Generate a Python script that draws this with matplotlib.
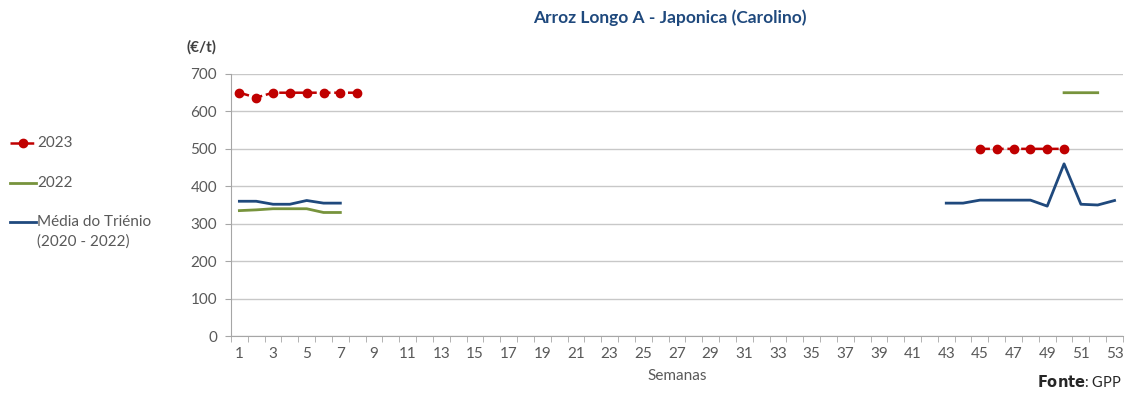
#!/usr/bin/env python
"""
Arroz Longo A - Japonica (Carolino): weekly prices, 2023 vs 2022 vs triennium mean.
"""
import numpy as np
import matplotlib
matplotlib.use('Agg')
import matplotlib.pyplot as plt
from matplotlib.lines import Line2D

plt.rcParams['font.family'] = ['Lato', 'DejaVu Sans']

# weeks 1..53, NaN where there is no quotation
weeks = np.arange(1, 54)

w2023 = [1, 2, 3, 4, 5, 6, 7, 8, 45, 46, 47, 48, 49, 50]
v2023 = [650, 637, 650, 650, 650, 650, 650, 650, 500, 500, 500, 500, 500, 500]

w2022 = [1, 2, 3, 4, 5, 6, 7, 50, 51, 52]
v2022 = [335, 337, 340, 340, 340, 330, 330, 650, 650, 650]

wmedia = [1, 2, 3, 4, 5, 6, 7, 43, 44, 45, 46, 47, 48, 49, 50, 51, 52, 53]
vmedia = [360, 360, 352, 352, 362, 355, 355,
          355, 355, 363, 363, 363, 363, 347, 460, 352, 350, 362]

xticklabels = [str(w) for w in range(1, 54, 2)]
legend_labels = ['2023', '2022', 'Média do Triénio\n(2020 - 2022)']


def to_series(w, v):
    s = np.full(len(weeks), np.nan)
    s[np.array(w) - 1] = v
    return s


s2023 = to_series(w2023, v2023)
s2022 = to_series(w2022, v2022)
smedia = to_series(wmedia, vmedia)

red = '#C00000'
green = '#77933C'
blue = '#1F497D'
grey_txt = '#595959'
dash = (0, (4, 1.5))

fig = plt.figure(figsize=(11.31, 3.94), dpi=100)
ax = fig.add_axes([0.2042, 0.1472, 0.7887, 0.665])

ax.plot(weeks, smedia, color=blue, lw=2, zorder=3)
ax.plot(weeks, s2022, color=green, lw=2, zorder=3)
ax.plot(weeks, s2023, color=red, lw=1.8, ls=dash, marker='o', ms=6, zorder=4)

ax.set_xlim(0.5, 53.5)
ax.set_ylim(0, 700)
ax.set_yticks(np.arange(0, 701, 100))
ax.set_xticks(np.arange(1, 54, 2))
ax.set_xticklabels(xticklabels)
ax.set_xticks(np.arange(0.5, 54, 1), minor=True)
ax.tick_params(axis='x', which='major', length=0, pad=8, labelsize=11,
               labelcolor=grey_txt)
ax.tick_params(axis='x', which='minor', length=4, color='#A6A6A6',
               direction='out')
ax.tick_params(axis='y', length=4, color='#A6A6A6', labelsize=11,
               labelcolor=grey_txt, pad=6)
ax.grid(axis='y', color='#C8C8C8', lw=1)
ax.set_axisbelow(True)
for side in ['top', 'right']:
    ax.spines[side].set_visible(False)
ax.spines['left'].set_color('#A6A6A6')
ax.spines['bottom'].set_color('#A6A6A6')

ax.set_xlabel('Semanas', fontsize=11, color=grey_txt, labelpad=6)

fig.text(0.592, 0.955, 'Arroz Longo A - Japonica (Carolino)', ha='center',
         va='center', fontsize=12.5, fontweight='bold', color=blue)
fig.text(0.178, 0.88, '(€/t)', ha='center', va='center', fontsize=11,
         fontweight='bold', color='#404040')
fig.text(0.992, 0.03, r'$\bf{Fonte}$: GPP', ha='right', va='center',
         fontsize=10.5, color='#262626')

# legend drawn by hand so the handle sits on the first line of a label
handles = [
    dict(color=red, lw=1.8, ls=dash, marker='o', ms=6, markevery=[1]),
    dict(color=green, lw=2),
    dict(color=blue, lw=2),
]
rows_px = [143, 183, 222]
line_gap_px = 20
for h, lab, ypx in zip(handles, legend_labels, rows_px):
    y = 1 - ypx / 394
    fig.add_artist(Line2D([10 / 1131, 22.5 / 1131, 36 / 1131], [y, y, y],
                          transform=fig.transFigure, **h))
    for i, part in enumerate(lab.split('\n')):
        fig.text(37 / 1131, 1 - (ypx + i * line_gap_px) / 394, part,
                 ha='left', va='center', fontsize=11, color=grey_txt)

fig.savefig('out.png', dpi=100)
